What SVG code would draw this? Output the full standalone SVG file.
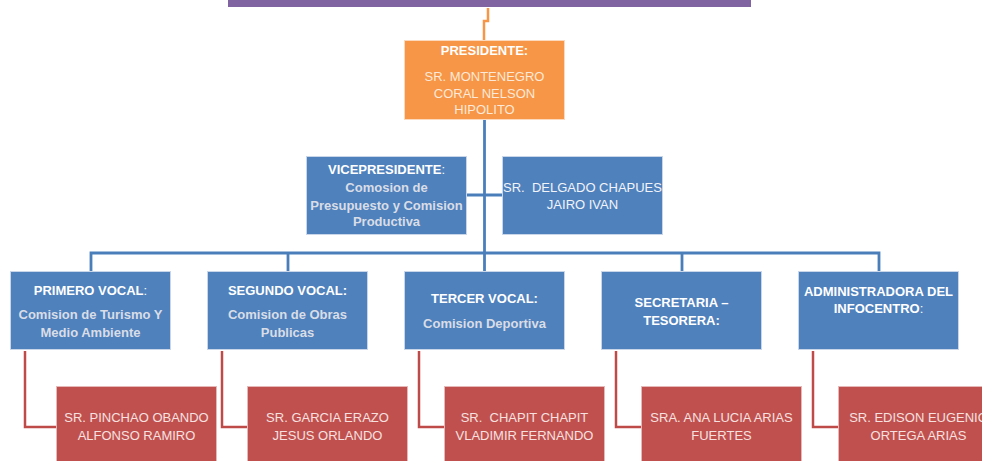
<svg xmlns="http://www.w3.org/2000/svg" width="982" height="461" viewBox="0 0 982 461">
<style>
text{font-family:"Liberation Sans",Arial,sans-serif;font-size:13px;text-anchor:middle;dominant-baseline:central}
.b{font-weight:bold}
.t{fill:#ffffff}
.d{fill:#d9dde6;font-weight:bold}
.on{fill:#fde9d9}
.rn{fill:#f5e1e0}
.wn{fill:#f2f4f8}
.blue{fill:#4f81bd;stroke:#c9d6ea;stroke-width:1}
.orange{fill:#f79646;stroke:#fcd9bd;stroke-width:1}
.red{fill:#c0504d;stroke:#e6b9b8;stroke-width:1}
.cb{fill:none;stroke:#4a7ebb;stroke-width:2.8}
.cr{fill:none;stroke:#be4b48;stroke-width:2.5}
.co{fill:none;stroke:#f79646;stroke-width:2.5}
</style>
<g id="connectors">
<polyline class="co" points="488,8 488,21 484,21 484,40"/>
<line class="cb" x1="484.5" y1="119" x2="484.5" y2="271"/>
<line class="cb" x1="467" y1="195" x2="502" y2="195"/>
<polyline class="cb" points="91,271 91,253 879,253 879,271"/>
<line class="cb" x1="288" y1="253" x2="288" y2="271"/>
<line class="cb" x1="682" y1="253" x2="682" y2="271"/>
<polyline class="cr" points="25,351 25,427 57,427"/>
<polyline class="cr" points="222,351 222,427 248,427"/>
<polyline class="cr" points="419,351 419,427 445,427"/>
<polyline class="cr" points="616,351 616,427 642,427"/>
<polyline class="cr" points="813,351 813,427 839,427"/>
</g>
<g id="banner"><rect x="228" y="-2" width="523" height="9" fill="#8064a2"/></g>
<g id="presidente">
<rect class="orange" x="404.5" y="40.5" width="160" height="79"/>
<text class="b t" x="484.5" y="50">PRESIDENTE:</text>
<text class="on" x="484.5" y="76">SR. MONTENEGRO</text>
<text class="on" x="484.5" y="93">CORAL NELSON</text>
<text class="on" x="484.5" y="109">HIPOLITO</text>
</g>
<g id="vicepresidente">
<rect class="blue" x="306.5" y="156.5" width="160" height="78"/>
<text class="t" x="386.5" y="169"><tspan class="b">VICEPRESIDENTE</tspan>:</text>
<text class="d" x="386.5" y="187">Comosion de</text>
<text class="d" x="386.5" y="205">Presupuesto y Comision</text>
<text class="d" x="386.5" y="221">Productiva</text>
</g>
<g id="delgado">
<rect class="blue" x="502.5" y="156.5" width="160" height="78"/>
<text class="wn" x="582.5" y="187" xml:space="preserve">SR.  DELGADO CHAPUES</text>
<text class="wn" x="582.5" y="204">JAIRO IVAN</text>
</g>
<g id="primero-vocal">
<rect class="blue" x="10.5" y="271.5" width="160" height="78"/>
<text class="t" x="90.5" y="290"><tspan class="b">PRIMERO VOCAL</tspan>:</text>
<text class="d" x="90.5" y="314">Comision de Turismo Y</text>
<text class="d" x="90.5" y="332">Medio Ambiente</text>
</g>
<g id="segundo-vocal">
<rect class="blue" x="207.5" y="271.5" width="160" height="78"/>
<text class="b t" x="287.5" y="290">SEGUNDO VOCAL:</text>
<text class="d" x="287.5" y="314">Comision de Obras</text>
<text class="d" x="287.5" y="332">Publicas</text>
</g>
<g id="tercer-vocal">
<rect class="blue" x="404.5" y="271.5" width="160" height="78"/>
<text class="b t" x="484.5" y="298">TERCER VOCAL:</text>
<text class="d" x="484.5" y="323">Comision Deportiva</text>
</g>
<g id="secretaria">
<rect class="blue" x="601.5" y="271.5" width="160" height="78"/>
<text class="b t" x="681.5" y="302">SECRETARIA –</text>
<text class="b t" x="681.5" y="320">TESORERA:</text>
</g>
<g id="administradora">
<rect class="blue" x="798.5" y="271.5" width="160" height="78"/>
<text class="b t" x="878.5" y="291">ADMINISTRADORA DEL</text>
<text class="t" x="878.5" y="308"><tspan class="b">INFOCENTRO</tspan>:</text>
</g>
<g id="pinchao">
<rect class="red" x="56.5" y="386.5" width="160" height="80"/>
<text class="rn" x="136.5" y="417">SR. PINCHAO OBANDO</text>
<text class="rn" x="136.5" y="435">ALFONSO RAMIRO</text>
</g>
<g id="garcia">
<rect class="red" x="247.5" y="386.5" width="160" height="80"/>
<text class="rn" x="327.5" y="417">SR. GARCIA ERAZO</text>
<text class="rn" x="327.5" y="435">JESUS ORLANDO</text>
</g>
<g id="chapit">
<rect class="red" x="444.5" y="386.5" width="160" height="80"/>
<text class="rn" x="524.5" y="417" xml:space="preserve">SR.  CHAPIT CHAPIT</text>
<text class="rn" x="524.5" y="435">VLADIMIR FERNANDO</text>
</g>
<g id="arias">
<rect class="red" x="641.5" y="386.5" width="160" height="80"/>
<text class="rn" x="721.5" y="417">SRA. ANA LUCIA ARIAS</text>
<text class="rn" x="721.5" y="435">FUERTES</text>
</g>
<g id="edison">
<rect class="red" x="838.5" y="386.5" width="160" height="80"/>
<text class="rn" x="918.5" y="417">SR. EDISON EUGENIO</text>
<text class="rn" x="918.5" y="435">ORTEGA ARIAS</text>
</g>
</svg>
